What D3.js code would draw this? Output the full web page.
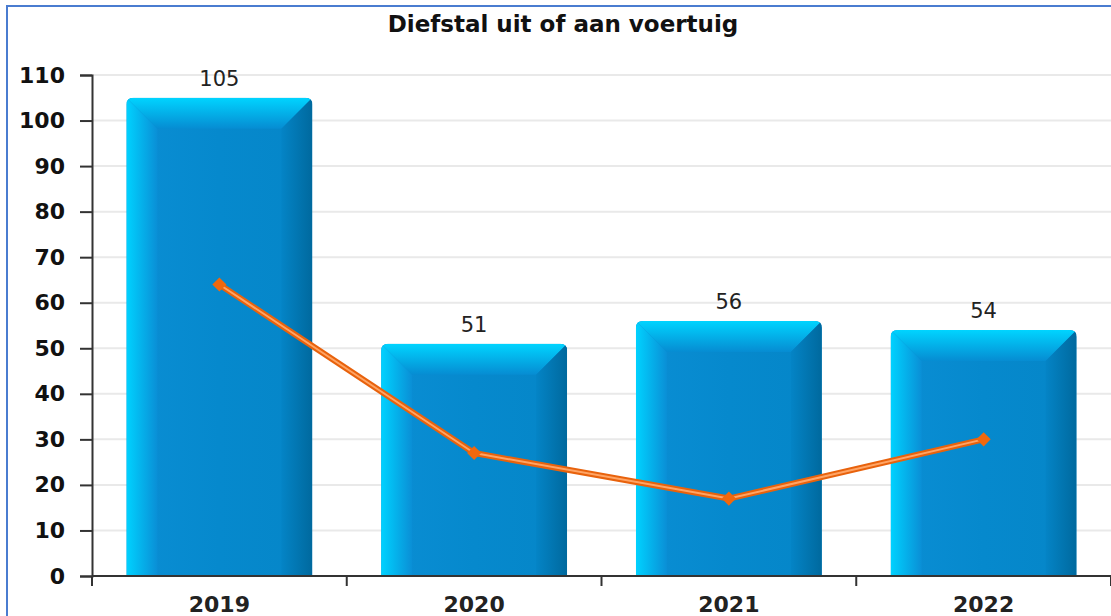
<!DOCTYPE html>
<html lang="nl">
<head>
<meta charset="utf-8">
<title>Diefstal uit of aan voertuig</title>
<script src="https://cdn.jsdelivr.net/npm/d3@7"></script>
<style>
  body { margin: 0; background: #fff; }
  svg { display: block; font-family: "DejaVu Sans", sans-serif; }
</style>
</head>
<body>
<svg id="chart" width="1111" height="616"></svg>
<script>
// data
var years = ["2019", "2020", "2021", "2022"];
var barValues = [105, 51, 56, 54];
var lineValues = [64, 27, 17, 30];
var yTicks = [0, 10, 20, 30, 40, 50, 60, 70, 80, 90, 100, 110];
var title = "Diefstal uit of aan voertuig";

var W = 1111, H = 616;
var mLeft = 92, mRight = 1111, mTop = 75, mBottom = 576;

var svg = d3.select("#chart");

// frame
svg.append("rect").attr("x", 7).attr("y", 6).attr("width", 1200).attr("height", 700)
  .attr("fill", "#fff").attr("stroke", "#4a7cd0").attr("stroke-width", 2);

var x = d3.scaleBand().domain(years).range([mLeft, mRight]).paddingInner(0.27).paddingOuter(0.135);
var y = d3.scaleLinear().domain([0, 110]).range([mBottom, mTop]);

// gradients
var defs = svg.append("defs");
function grad(id, x2, y2, stops) {
  var g = defs.append("linearGradient").attr("id", id)
    .attr("x1", 0).attr("y1", 0).attr("x2", x2).attr("y2", y2);
  stops.forEach(function(s) { g.append("stop").attr("offset", s[0]).attr("stop-color", s[1]); });
}
grad("gLeft", 1, 0, [[0, "#00d2ff"], [1, "#0a8fd6"]]);
grad("gTop", 0, 1, [[0, "#00d4ff"], [1, "#068cd2"]]);
grad("gRight", 1, 0, [[0, "#0484c6"], [1, "#00699e"]]);
grad("gFace", 1, 0, [[0, "#0a8ed4"], [0.5, "#0689cd"], [1, "#0586c8"]]);
grad("gLine", 0, 1, [[0, "#e8620c"], [1, "#e8620c"]]);

// gridlines
svg.append("g").selectAll("line").data(yTicks.slice(1)).join("line")
  .attr("x1", mLeft).attr("x2", mRight)
  .attr("y1", function(d) { return y(d); }).attr("y2", function(d) { return y(d); })
  .attr("stroke", "#e9e9e9").attr("stroke-width", 2);

// title
svg.append("text").attr("x", 563).attr("y", 32).attr("text-anchor", "middle")
  .attr("font-weight", "bold").attr("font-size", 23).attr("fill", "#111").text(title);

// bars with bevel
var bev = 31, r = 7;
var bars = svg.append("g").selectAll("g").data(years).join("g");
bars.each(function(d, i) {
  var g = d3.select(this);
  var x0 = x(d), x1 = x(d) + x.bandwidth(), y0 = y(barValues[i]), y1 = y(0);
  var clipId = "clip" + i;
  defs.append("clipPath").attr("id", clipId).append("path")
    .attr("d", "M" + x0 + "," + y1 + "V" + (y0 + r) + "Q" + x0 + "," + y0 + " " + (x0 + r) + "," + y0 +
      "H" + (x1 - r) + "Q" + x1 + "," + y0 + " " + x1 + "," + (y0 + r) + "V" + y1 + "Z");
  var c = g.append("g").attr("clip-path", "url(#" + clipId + ")");
  c.append("rect").attr("x", x0).attr("y", y0).attr("width", x1 - x0).attr("height", y1 - y0)
    .attr("fill", "url(#gFace)");
  // left bevel
  c.append("path").attr("d", "M" + x0 + "," + y0 + "L" + (x0 + bev) + "," + (y0 + bev) +
      "V" + y1 + "H" + x0 + "Z").attr("fill", "url(#gLeft)");
  // top bevel
  c.append("path").attr("d", "M" + x0 + "," + y0 + "H" + x1 + "L" + (x1 - bev) + "," + (y0 + bev) +
      "H" + (x0 + bev) + "Z").attr("fill", "url(#gTop)");
  // right bevel
  c.append("path").attr("d", "M" + x1 + "," + y0 + "V" + y1 + "H" + (x1 - bev) +
      "V" + (y0 + bev) + "Z").attr("fill", "url(#gRight)");
  // value label
  g.append("text").attr("x", (x0 + x1) / 2).attr("y", y0 - 12).attr("text-anchor", "middle")
    .attr("font-size", 21).attr("fill", "#222").text(barValues[i]);
});

// axes
var yAxis = svg.append("g").attr("transform", "translate(" + mLeft + ",0)")
  .call(d3.axisLeft(y).tickValues(yTicks).tickSize(12).tickPadding(15));
yAxis.selectAll("text").attr("font-size", 22).attr("font-weight", "bold").attr("fill", "#111")
  .attr("font-family", "DejaVu Sans, sans-serif");
yAxis.select(".domain").attr("stroke", "#333").attr("stroke-width", 2);
yAxis.selectAll(".tick line").attr("stroke", "#333").attr("stroke-width", 2);

var step = x.step();
var xTickPos = d3.range(years.length + 1).map(function(k) { return mLeft + k * step; });
var xAxis = svg.append("g");
xAxis.append("line").attr("x1", mLeft).attr("x2", mRight).attr("y1", mBottom).attr("y2", mBottom)
  .attr("stroke", "#333").attr("stroke-width", 2);
xAxis.selectAll("line.tk").data(xTickPos).join("line").attr("class", "tk")
  .attr("x1", function(d) { return d; }).attr("x2", function(d) { return d; })
  .attr("y1", mBottom).attr("y2", mBottom + 10).attr("stroke", "#333").attr("stroke-width", 2);
xAxis.selectAll("text").data(years).join("text")
  .attr("x", function(d) { return x(d) + x.bandwidth() / 2; }).attr("y", 612)
  .attr("text-anchor", "middle").attr("font-size", 22).attr("font-weight", "bold").attr("fill", "#222")
  .text(function(d) { return d; });

// line series
var pts = years.map(function(d, i) { return [x(d) + x.bandwidth() / 2, y(lineValues[i])]; });
var lineGen = d3.line();
svg.append("path").attr("d", lineGen(pts)).attr("fill", "none")
  .attr("stroke", "#e8620c").attr("stroke-width", 6).attr("stroke-linejoin", "round");
svg.append("path").attr("d", lineGen(pts)).attr("fill", "none")
  .attr("stroke", "#ffa464").attr("stroke-width", 2).attr("stroke-linejoin", "round");
svg.append("g").selectAll("path").data(pts).join("path")
  .attr("transform", function(p) { return "translate(" + p[0] + "," + p[1] + ") rotate(45)"; })
  .attr("d", "M-5,-5H5V5H-5Z").attr("fill", "#f0680e");
</script>
</body>
</html>
